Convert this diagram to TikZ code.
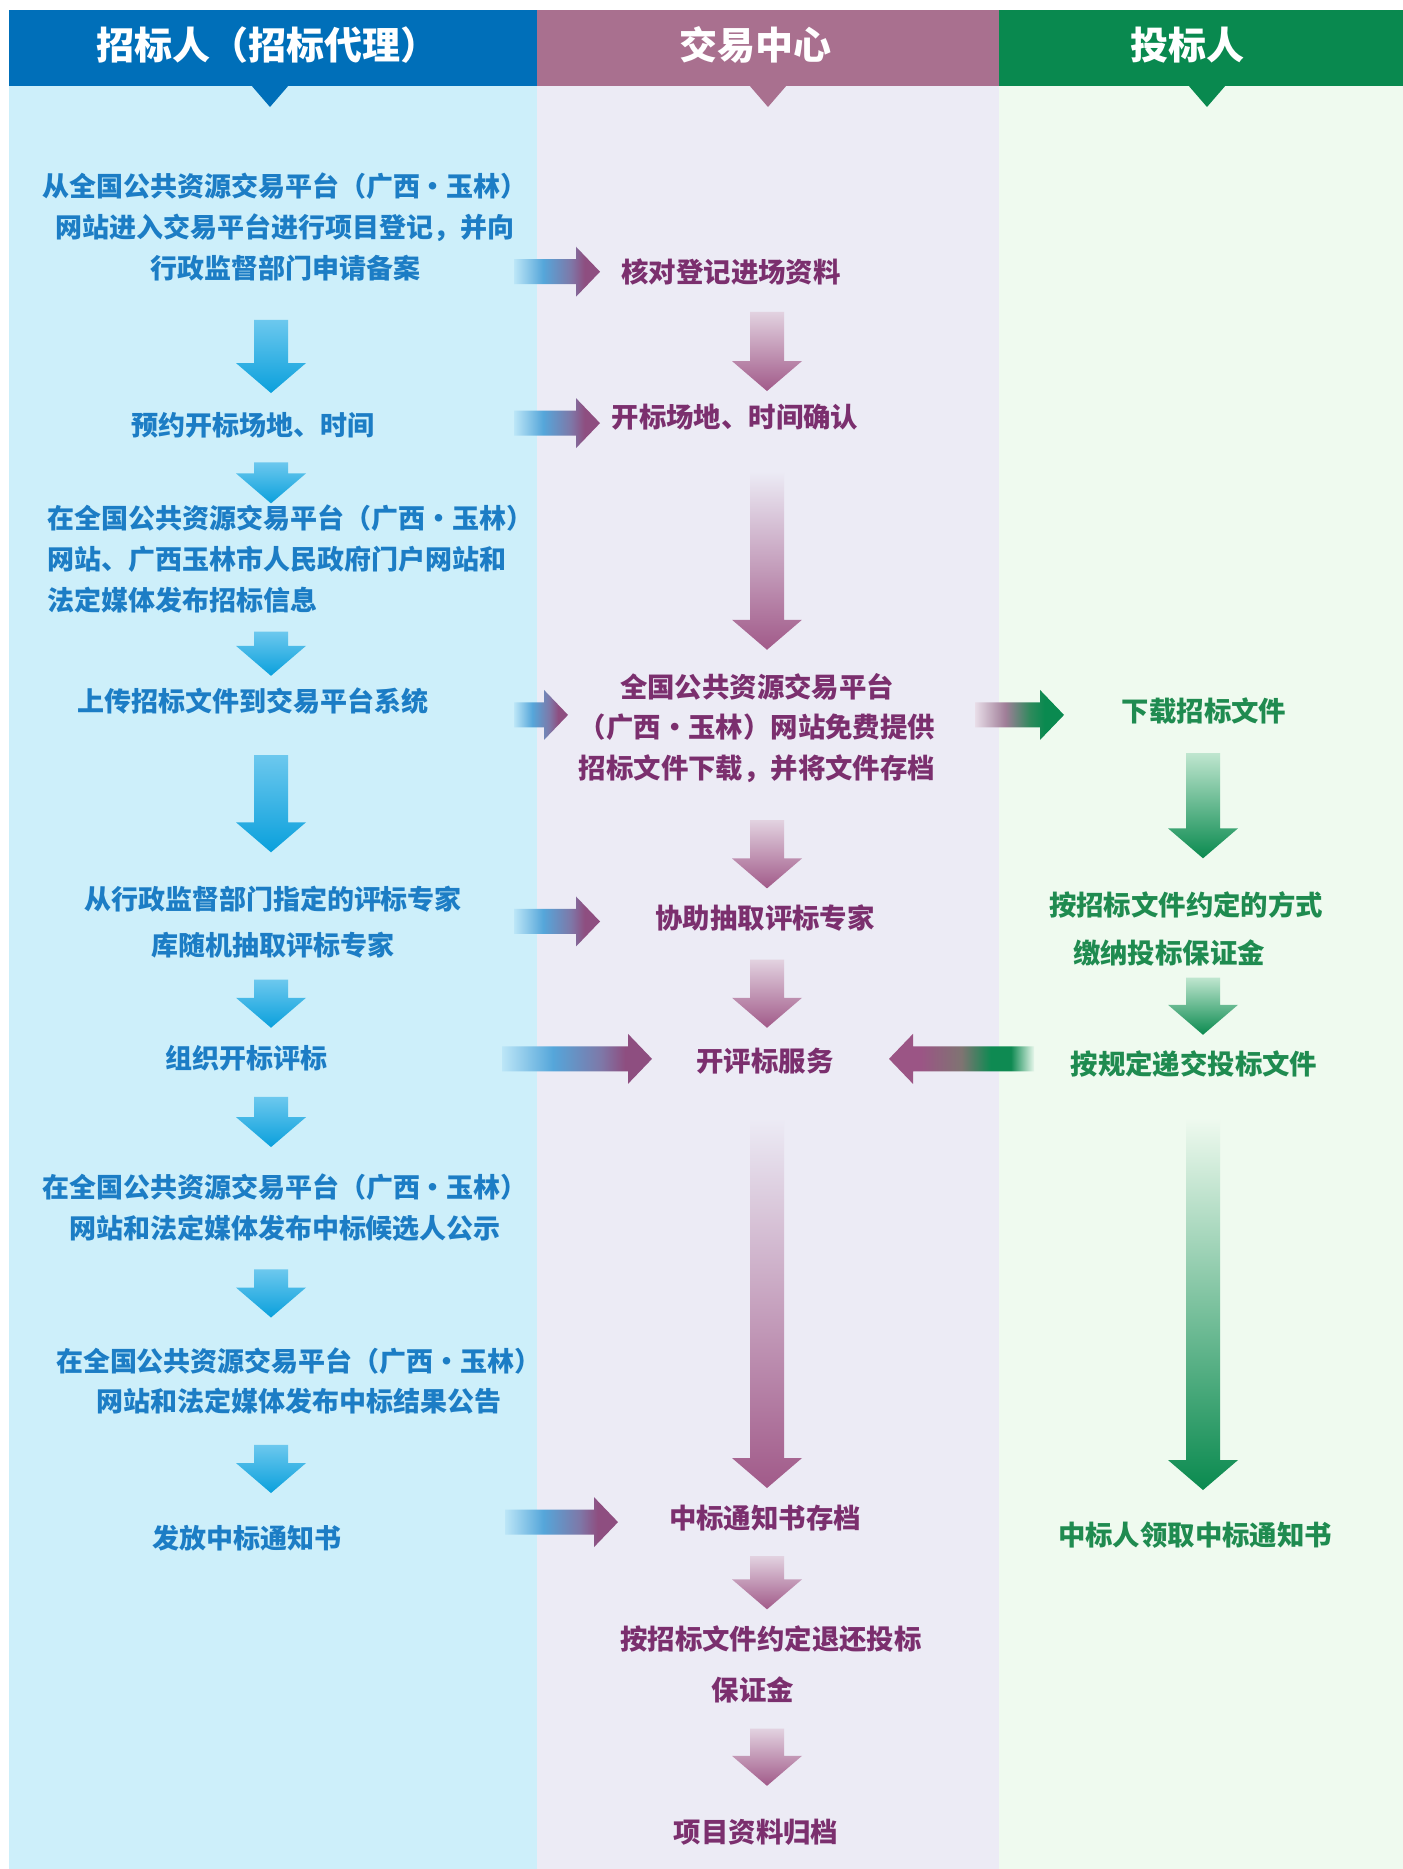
\documentclass[tikz,border=0pt]{standalone}
\usepackage{fontspec}
\setmainfont{Noto Sans CJK SC}
\usetikzlibrary{calc}
\definecolor{hblue}{HTML}{006FB9}
\definecolor{hpurp}{HTML}{A9708F}
\definecolor{hgreen}{HTML}{09894F}
\definecolor{bgL}{HTML}{CDEFFA}
\definecolor{bgM}{HTML}{ECEBF5}
\definecolor{bgR}{HTML}{EFFAEF}
\definecolor{tL}{HTML}{1C7DC5}
\definecolor{tM}{HTML}{7B2F6E}
\definecolor{tR}{HTML}{1F8B50}
\definecolor{aBlue}{HTML}{0AA0DC}
\definecolor{aBlueL}{HTML}{6CC8EE}
\definecolor{aPurp}{HTML}{A15A89}
\definecolor{aPurpL}{HTML}{E2D2E0}
\definecolor{aGreen}{HTML}{0A8A4F}
\definecolor{aGreenL}{HTML}{BFE6CF}
\definecolor{lmA}{HTML}{BCE6F7}
\definecolor{lmB}{HTML}{55A6DA}
\definecolor{lmC}{HTML}{7E78A8}
\definecolor{lmD}{HTML}{8E4E80}
\definecolor{mrA}{HTML}{E8DDE8}
\definecolor{mrB}{HTML}{A07E98}
\definecolor{mrC}{HTML}{2E8A5C}
\definecolor{mrD}{HTML}{0A8A50}
\definecolor{rmA}{HTML}{9B5585}
\definecolor{rmB}{HTML}{7F7472}
\definecolor{rmC}{HTML}{0E8A52}
\definecolor{rmD}{HTML}{E6F6EA}
\pgfdeclarehorizontalshading{lmshade}{100bp}{color(0bp)=(lmA); color(25bp)=(lmA); color(42bp)=(lmB); color(58bp)=(lmC); color(66bp)=(lmD); color(100bp)=(lmD)}
\pgfdeclarehorizontalshading{mrshade}{100bp}{color(0bp)=(mrA); color(25bp)=(mrA); color(42bp)=(mrB); color(56bp)=(mrC); color(64bp)=(mrD); color(100bp)=(mrD)}
\pgfdeclarehorizontalshading{rmshade}{100bp}{color(0bp)=(rmA); color(25bp)=(rmA); color(36bp)=(rmA); color(50bp)=(rmB); color(60bp)=(rmC); color(67bp)=(rmC); color(75bp)=(rmD); color(100bp)=(rmD)}
\newcommand\dnarrow[5]{\shade[top color=#3,middle color=#4,bottom color=#5] let \p1=(#1),\p2=(#2) in (\x1-17pt,\y1) -- (\x1+17pt,\y1) -- (\x1+17pt,\y2+30pt) -- (\x1+35pt,\y2+30pt) -- (\x1,\y2) -- (\x1-35pt,\y2+30pt) -- (\x1-17pt,\y2+30pt) -- cycle;}
\newcommand\rtarrow[3]{\shade[shading=#3] let \p1=(#1),\p2=(#2) in (\x1,\y1+12.5pt) -- (\x2-24pt,\y1+12.5pt) -- (\x2-24pt,\y1+25pt) -- (\x2,\y1) -- (\x2-24pt,\y1-25pt) -- (\x2-24pt,\y1-12.5pt) -- (\x1,\y1-12.5pt) -- cycle;}
\newcommand\ltarrow[3]{\shade[shading=#3] let \p1=(#1),\p2=(#2) in (\x1,\y1+12.5pt) -- (\x2+24pt,\y1+12.5pt) -- (\x2+24pt,\y1+25pt) -- (\x2,\y1) -- (\x2+24pt,\y1-25pt) -- (\x2+24pt,\y1-12.5pt) -- (\x1,\y1-12.5pt) -- cycle;}
\tikzset{
  txtbase/.style={font=\fontsize{27}{41}\selectfont\bfseries, align=center, inner sep=0pt},
  ltxt/.style={txtbase, text=tL},
  mtxt/.style={txtbase, text=tM, font=\fontsize{27.4}{41}\selectfont\bfseries},
  rtxt/.style={txtbase, text=tR, font=\fontsize{27.4}{41}\selectfont\bfseries},
  htxt/.style={font=\fontsize{38}{40}\selectfont\bfseries, text=white, inner sep=0pt},
}
\begin{document}
\begin{tikzpicture}[x=1pt,y=-1pt]
\useasboundingbox (0,0) rectangle (1403,1869);
\fill[white] (0,0) rectangle (1403,1869);
% columns
\fill[bgL] (9,86) rectangle (537,1869);
\fill[bgM] (537,86) rectangle (999,1869);
\fill[bgR] (999,86) rectangle (1403,1869);
% headers
\fill[hblue] (9,10) rectangle (537,86);
\fill[hpurp] (537,10) rectangle (999,86);
\fill[hgreen] (999,10) rectangle (1403,86);
\fill[hblue] (251,85) -- (289,85) -- (270,107) -- cycle;
\fill[hpurp] (749,85) -- (787,85) -- (768,107) -- cycle;
\fill[hgreen] (1188,85) -- (1226,85) -- (1207,107) -- cycle;
\node[htxt] (h1) at (267,45) {招标人（招标代理）};
\node[htxt] (h2) at (755,45) {交易中心};
\node[htxt] (h3) at (1187,45) {投标人};
\begin{scope}[y=-1.0027pt]
% left texts
\node[ltxt] (L1) at (285,226) {从全国公共资源交易平台（广西・玉林）\\网站进入交易平台进行项目登记，并向\\行政监督部门申请备案};
\node[ltxt] (L2) at (253,424) {预约开标场地、时间};
\node[ltxt, align=left, anchor=west] (L3) at (47,557) {在全国公共资源交易平台（广西・玉林）\\网站、广西玉林市人民政府门户网站和\\法定媒体发布招标信息};
\node[ltxt] (L4) at (253,699) {上传招标文件到交易平台系统};
\node[ltxt, font=\fontsize{27}{46}\selectfont\bfseries] (L5) at (273,920) {从行政监督部门指定的评标专家\\库随机抽取评标专家};
\node[ltxt] (L6) at (246,1055) {组织开标评标};
\node[ltxt] (L7) at (285,1204) {在全国公共资源交易平台（广西・玉林）\\网站和法定媒体发布中标候选人公示};
\node[ltxt, font=\fontsize{27}{40}\selectfont\bfseries] (L8) at (299,1377) {在全国公共资源交易平台（广西・玉林）\\网站和法定媒体发布中标结果公告};
\node[ltxt] (L9) at (247,1534) {发放中标通知书};
% middle texts
\node[mtxt] (M1) at (731,271) {核对登记进场资料};
\node[mtxt] (M2) at (735,416) {开标场地、时间确认};
\node[mtxt, font=\fontsize{27.4}{40.5}\selectfont\bfseries] (M4) at (757,726) {全国公共资源交易平台\\（广西・玉林）网站免费提供\\招标文件下载，并将文件存档};
\node[mtxt] (M5) at (765,916) {协助抽取评标专家};
\node[mtxt] (M6) at (765,1058) {开评标服务};
\node[mtxt] (M9) at (765,1514) {中标通知书存档};
\node[mtxt] (M10a) at (771,1635) {按招标文件约定退还投标};
\node[mtxt] (M10b) at (753,1685) {保证金};
\node[mtxt] (M11) at (756,1827) {项目资料归档};
% right texts
\node[rtxt] (R4) at (1204,709) {下载招标文件};
\node[rtxt] (R5a) at (1186,902) {按招标文件约定的方式};
\node[rtxt] (R5b) at (1169,950) {缴纳投标保证金};
\node[rtxt] (R6) at (1194,1061) {按规定递交投标文件};
\node[rtxt] (R9) at (1195,1531) {中标人领取中标通知书};
% arrow coordinates
\coordinate (a1s) at (514,271); \coordinate (a1e) at (600,271);
\coordinate (a2s) at (514,422); \coordinate (a2e) at (600,422);
\coordinate (a3s) at (514,713); \coordinate (a3e) at (568,713);
\coordinate (a4s) at (975,713); \coordinate (a4e) at (1064,713);
\coordinate (a5s) at (514,919); \coordinate (a5e) at (600,919);
\coordinate (a6s) at (502,1056); \coordinate (a6e) at (652,1056);
\coordinate (a7s) at (1034,1056); \coordinate (a7e) at (889,1056);
\coordinate (a8s) at (505,1518); \coordinate (a8e) at (618,1518);
\rtarrow{a1s}{a1e}{lmshade}
\rtarrow{a2s}{a2e}{lmshade}
\rtarrow{a3s}{a3e}{lmshade}
\rtarrow{a4s}{a4e}{mrshade}
\rtarrow{a5s}{a5e}{lmshade}
\rtarrow{a6s}{a6e}{lmshade}
\ltarrow{a7s}{a7e}{rmshade}
\rtarrow{a8s}{a8e}{lmshade}
% left down arrows
\coordinate (ld1s) at (271,319); \coordinate (ld1e) at (271,392);
\coordinate (ld2s) at (271,461); \coordinate (ld2e) at (271,502);
\coordinate (ld3s) at (271,630); \coordinate (ld3e) at (271,674);
\coordinate (ld4s) at (271,753); \coordinate (ld4e) at (271,850);
\coordinate (ld5s) at (271,977); \coordinate (ld5e) at (271,1025);
\coordinate (ld6s) at (271,1094); \coordinate (ld6e) at (271,1144);
\coordinate (ld7s) at (271,1266); \coordinate (ld7e) at (271,1314);
\coordinate (ld8s) at (271,1441); \coordinate (ld8e) at (271,1489);
\foreach \i in {1,...,8}{\dnarrow{ld\i s}{ld\i e}{aBlueL}{aBlue}{aBlue}}
% middle down arrows
\coordinate (md1s) at (767,311); \coordinate (md1e) at (767,390);
\coordinate (md2s) at (767,470); \coordinate (md2e) at (767,648);
\coordinate (md3s) at (767,818); \coordinate (md3e) at (767,886);
\coordinate (md4s) at (767,957); \coordinate (md4e) at (767,1025);
\coordinate (md5s) at (767,1115); \coordinate (md5e) at (767,1484);
\coordinate (md6s) at (767,1552); \coordinate (md6e) at (767,1605);
\coordinate (md7s) at (767,1724); \coordinate (md7e) at (767,1781);
\foreach \i in {1,3,4,6,7}{\dnarrow{md\i s}{md\i e}{aPurpL}{aPurp}{aPurp}}
\foreach \i in {2,5}{\dnarrow{md\i s}{md\i e}{bgM}{aPurpL!40!aPurp}{aPurp}}
% right down arrows
\coordinate (rd1s) at (1203,751); \coordinate (rd1e) at (1203,856);
\coordinate (rd2s) at (1203,975); \coordinate (rd2e) at (1203,1032);
\coordinate (rd3s) at (1203,1115); \coordinate (rd3e) at (1203,1486);
\foreach \i in {1,2}{\dnarrow{rd\i s}{rd\i e}{aGreenL}{aGreen}{aGreen}}
\dnarrow{rd3s}{rd3e}{bgR}{aGreenL!40!aGreen}{aGreen}
\end{scope}
\end{tikzpicture}
\end{document}
